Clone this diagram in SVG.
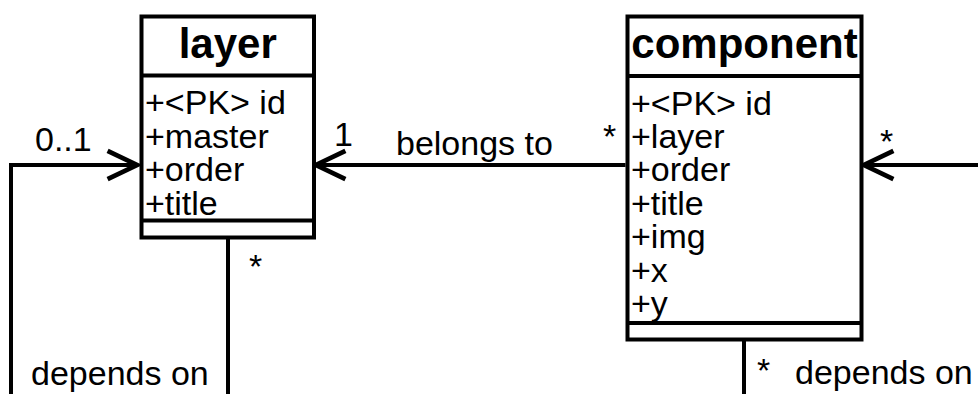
<svg xmlns="http://www.w3.org/2000/svg" width="978" height="394" viewBox="0 0 978 394">
<style>
.box{fill:#fff;stroke:#000;stroke-width:4}
.div{stroke:#000;stroke-width:4;fill:none}
.ln{stroke:#000;stroke-width:4;fill:none}
.title{font-family:"Liberation Sans",Arial,sans-serif;font-weight:bold;font-size:42px;text-anchor:middle;fill:#000}
.attr{font-family:"Liberation Sans",Arial,sans-serif;font-size:34px;fill:#000}
.lbl{font-family:"Liberation Sans",Arial,sans-serif;font-size:34px;fill:#000}
</style>
<defs>
<marker id="open" markerUnits="userSpaceOnUse" markerWidth="40" markerHeight="40" viewBox="-30 -15 34 30" refX="0" refY="0" orient="auto">
<path d="M-25,-12 L0,0 L-25,12" fill="none" stroke="#000" stroke-width="4"/>
</marker>
</defs>
<rect width="978" height="394" fill="#fff"/>
<g id="connectors">
<path class="ln" d="M11,394 L11,165 L137,165" marker-end="url(#open)"/>
<path class="ln" d="M228,237.5 L228,394"/>
<path class="ln" d="M625.5,165 L316,165" marker-end="url(#open)"/>
<path class="ln" d="M978,165 L864,165" marker-end="url(#open)"/>
<path class="ln" d="M744,339.5 L744,394"/>
<text class="lbl" x="35" y="151">0..1</text>
<text class="lbl" x="334" y="146">1</text>
<text class="lbl" x="396" y="155">belongs to</text>
<text class="lbl" x="603" y="147.5">*</text>
<text class="lbl" x="880" y="152.5">*</text>
<text class="lbl" x="249" y="277.5">*</text>
<text class="lbl" x="31" y="385">depends on</text>
<text class="lbl" x="757" y="381.5">*</text>
<text class="lbl" x="795" y="384">depends on</text>
</g>
<g id="layer">
<rect class="box" x="141.5" y="16.5" width="172.5" height="221"/>
<line class="div" x1="141.5" y1="75.5" x2="314" y2="75.5"/>
<line class="div" x1="141.5" y1="220.5" x2="314" y2="220.5"/>
<text class="title" x="227.75" y="58">layer</text>
<text class="attr" x="145" y="114">+&lt;PK&gt; id</text>
<text class="attr" x="145" y="147.7">+master</text>
<text class="attr" x="145" y="181.4">+order</text>
<text class="attr" x="145" y="215">+title</text>
</g>
<g id="component">
<rect class="box" x="627.5" y="16.5" width="234" height="323"/>
<line class="div" x1="627.5" y1="76" x2="861.5" y2="76"/>
<line class="div" x1="627.5" y1="323" x2="861.5" y2="323"/>
<text class="title" x="744.5" y="58">component</text>
<text class="attr" x="631" y="114.5">+&lt;PK&gt; id</text>
<text class="attr" x="631" y="147.9">+layer</text>
<text class="attr" x="631" y="181.3">+order</text>
<text class="attr" x="631" y="214.7">+title</text>
<text class="attr" x="631" y="248.1">+img</text>
<text class="attr" x="631" y="281.5">+x</text>
<text class="attr" x="631" y="314.5">+y</text>
</g>
</svg>
